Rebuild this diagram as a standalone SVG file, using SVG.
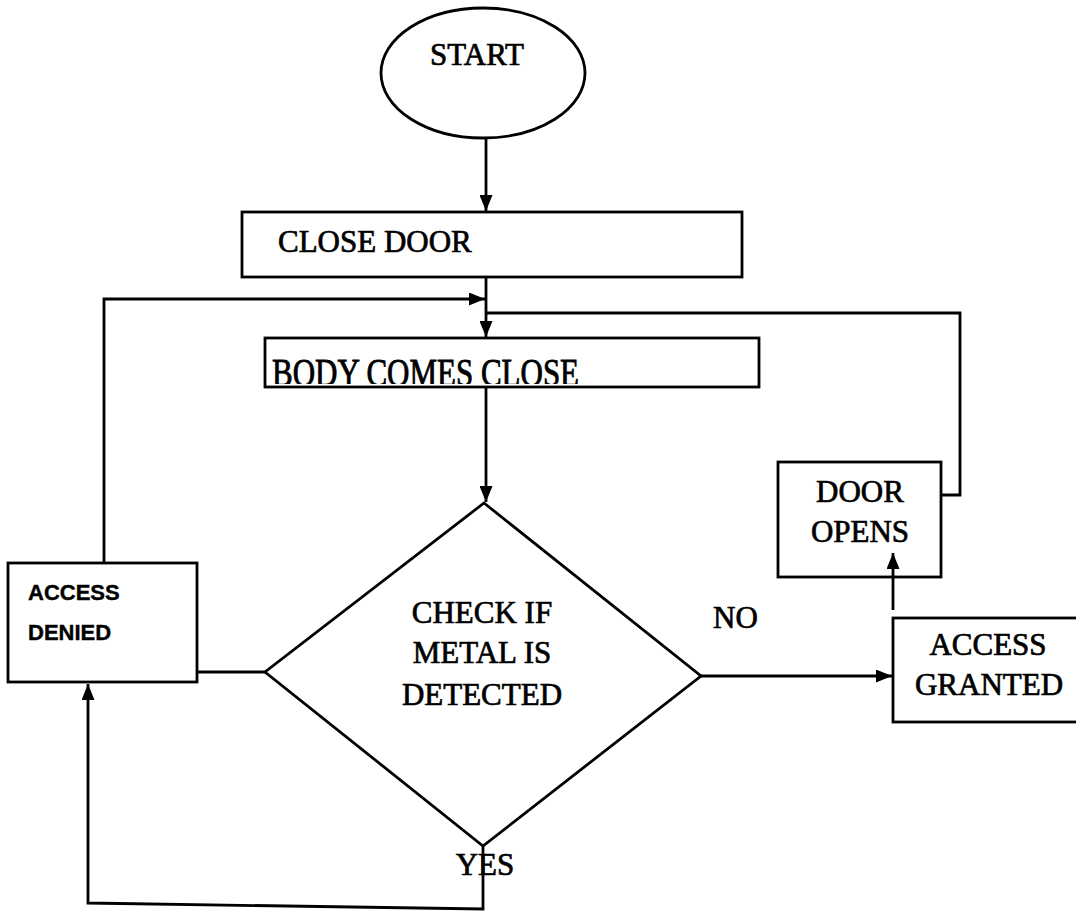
<svg xmlns="http://www.w3.org/2000/svg" width="1076" height="911" viewBox="0 0 1076 911">
  <style>
    .shape { fill: #fff; stroke: #000; stroke-width: 2.8; }
    .wire { fill: none; stroke: #000; stroke-width: 2.8; }
    .serif { font-family: "Liberation Serif", "Times New Roman", serif; font-size: 31px; fill: #000; stroke: #000; stroke-width: 0.7; }
    .sans { font-family: "Liberation Sans", Arial, sans-serif; font-size: 22px; font-weight: bold; fill: #000; stroke: #000; stroke-width: 0.4; }
    .mid { text-anchor: middle; }
  </style>
  <defs>
    <marker id="arrow" viewBox="0 0 16 13" refX="16" refY="6.5" markerWidth="16" markerHeight="13" markerUnits="userSpaceOnUse" orient="auto">
      <path d="M0,0 L16,6.5 L0,13 Z" fill="#000"/>
    </marker>
    <clipPath id="bodyClip">
      <rect x="266" y="339" width="492" height="45"/>
    </clipPath>
  </defs>

  <rect width="1076" height="911" fill="#fff"/>

  <g id="start">
    <ellipse class="shape" cx="483" cy="73" rx="102" ry="65"/>
    <text class="serif mid" x="477" y="65">START</text>
  </g>

  <g id="close-door">
    <rect class="shape" x="242" y="212" width="500" height="65"/>
    <text class="serif" x="278" y="252">CLOSE DOOR</text>
  </g>

  <g id="body-comes-close">
    <rect class="shape" x="265" y="338" width="494" height="49"/>
    <g clip-path="url(#bodyClip)">
      <text class="serif" font-size="30" transform="translate(272,386) scale(1,1.3)">BODY COMES CLOSE</text>
    </g>
  </g>

  <g id="check-metal">
    <polygon class="shape" points="484,503 701,676 483,846 265,672"/>
    <text class="serif mid" x="482" y="623">CHECK IF</text>
    <text class="serif mid" x="482" y="663">METAL IS</text>
    <text class="serif mid" x="482" y="705">DETECTED</text>
  </g>

  <g id="access-denied">
    <rect class="shape" x="8" y="563" width="189" height="119"/>
    <text class="sans" x="28" y="600">ACCESS</text>
    <text class="sans" x="28" y="640">DENIED</text>
  </g>

  <g id="access-granted">
    <rect class="shape" x="893" y="618" width="190" height="104"/>
    <text class="serif mid" x="988" y="655">ACCESS</text>
    <text class="serif mid" x="989" y="695">GRANTED</text>
  </g>

  <g id="door-opens">
    <rect class="shape" x="778" y="462" width="163" height="115"/>
    <text class="serif mid" x="860" y="502">DOOR</text>
    <text class="serif mid" x="860" y="542">OPENS</text>
  </g>

  <g id="labels">
    <text class="serif" x="713" y="628" font-size="33">NO</text>
    <text class="serif mid" x="485" y="875">YES</text>
  </g>

  <!-- connectors, drawn last so arrowheads sit on top of the boxes -->
  <g id="connectors">
    <path class="wire" d="M486,139 V211" marker-end="url(#arrow)"/>
    <path class="wire" d="M486,277 V337" marker-end="url(#arrow)"/>
    <path class="wire" d="M104,563 V299 H485" marker-end="url(#arrow)"/>
    <path class="wire" d="M941,495 H960 V313 H486"/>
    <path class="wire" d="M486,387 V502" marker-end="url(#arrow)"/>
    <path class="wire" d="M701,676 H892" marker-end="url(#arrow)"/>
    <path class="wire" d="M893,610 V553" marker-end="url(#arrow)"/>
    <path class="wire" d="M265,672 H197"/>
    <path class="wire" d="M483,845 V909 L88,903 V684" marker-end="url(#arrow)"/>
  </g>
</svg>
